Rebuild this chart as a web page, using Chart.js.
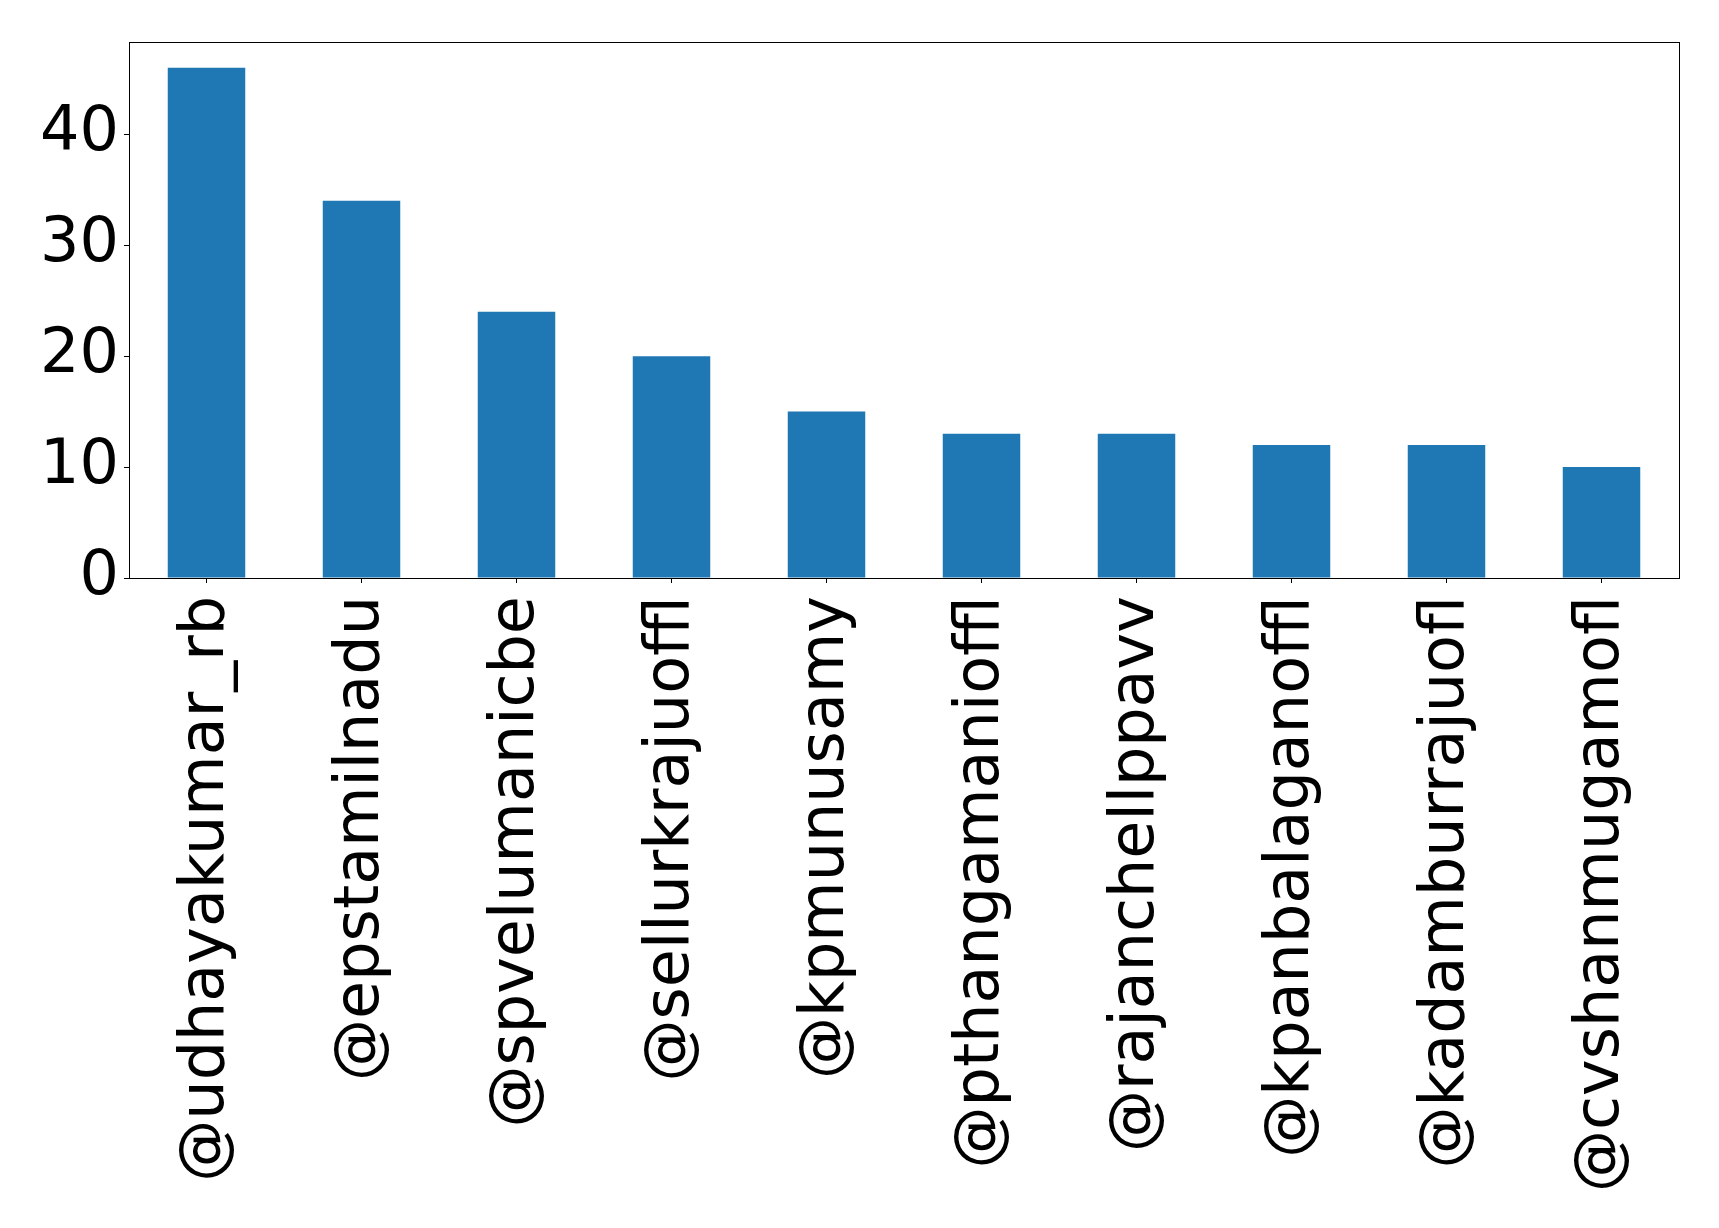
<!DOCTYPE html>
<html>
<head>
<meta charset="utf-8">
<script src="https://cdn.jsdelivr.net/npm/chart.js@4/dist/chart.umd.min.js"></script>
<style>
  html, body { margin: 0; padding: 0; background: #fff; }
  #wrap { width: 1719px; height: 1228px; }
</style>
</head>
<body>
<div id="wrap"><canvas id="chart"></canvas></div>
<script>
// data
const handles = ['@udhayakumar_rb', '@epstamilnadu', '@spvelumanicbe', '@sellurkrajuoffl', '@kpmunusamy',
    '@pthangamanioffl', '@rajanchellppavv', '@kpanbalaganoffl', '@kadamburrajuofl', '@cvshanmugamofl'];
const counts = [46, 34, 24, 20, 15, 13, 13, 12, 12, 10];
const yTicks = [0, 10, 20, 30, 40];
const yMax = 48.3;

const FONT = { family: 'DejaVu Sans', size: 62 };

// top/right spines like matplotlib
const frame = {
    id: 'frame',
    afterDraw(chart) {
        const { ctx, chartArea: a } = chart;
        ctx.save();
        ctx.strokeStyle = '#000';
        ctx.lineWidth = 1;
        ctx.strokeRect(Math.round(a.left) + 0.5, Math.round(a.top) + 0.5,
            Math.round(a.right - a.left), Math.round(a.bottom - a.top));
        ctx.restore();
    }
};

new Chart(document.getElementById('chart'), {
    type: 'bar',
    data: {
        labels: handles,
        datasets: [{
            data: counts,
            backgroundColor: '#1f77b4',
            barPercentage: 0.5,
            categoryPercentage: 1.0
        }]
    },
    options: {
        responsive: true,
        maintainAspectRatio: false,
        animation: false,
        layout: { padding: { top: 37, right: 40, left: 0, bottom: 0 } },
        plugins: { legend: { display: false }, tooltip: { enabled: false } },
        scales: {
            x: {
                grid: { offset: false, drawOnChartArea: false, drawTicks: true, tickLength: 5, tickColor: '#000' },
                border: { color: '#000', width: 1 },
                ticks: {
                    color: '#000',
                    font: FONT,
                    minRotation: 90,
                    maxRotation: 90,
                    autoSkip: false,
                    padding: 13
                },
                afterFit(scale) { scale.height = 650; }
            },
            y: {
                min: 0,
                max: yMax,
                grid: { drawOnChartArea: false, drawTicks: true, tickLength: 5, tickColor: '#000' },
                border: { color: '#000', width: 1 },
                afterBuildTicks(scale) { scale.ticks = yTicks.map(v => ({ value: v })); },
                ticks: {
                    color: '#000',
                    font: FONT,
                    padding: 5
                },
                afterFit(scale) { scale.width = 129; }
            }
        }
    },
    plugins: [frame]
});
</script>
</body>
</html>
